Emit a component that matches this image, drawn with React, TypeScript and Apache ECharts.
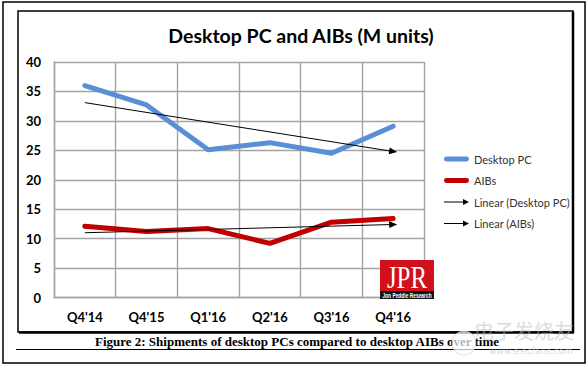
import React, { useEffect, useRef } from "react";
import * as echarts from "echarts";

const categories = ["Q4'14", "Q4'15", "Q1'16", "Q2'16", "Q3'16", "Q4'16"];
const desktopPC = [36.0, 32.7, 25.1, 26.3, 24.5, 29.1];
const aibs = [12.1, 11.2, 11.7, 9.2, 12.8, 13.4];
// trend line end points (first and last category)
const desktopTrend = [33.1, 24.8];
const aibTrend = [11.0, 12.4];
const yTicks = { min: 0, max: 40, interval: 5 };

const TITLE = "Desktop PC and AIBs (M units)";
const CAPTION = "Figure 2: Shipments of desktop PCs compared to desktop AIBs over time";

const BLUE = "#5A8ED6";
const RED = "#C00000";
const GRID = "#A3A3A3";

const barIcon = "path://M2.5,0 L23.5,0 A2.5,2.5 0 0 1 23.5,5 L2.5,5 A2.5,2.5 0 0 1 2.5,0 Z";
const arrowIcon = "path://M0,2.5 L19,2.5 L19,0 L25,3 L19,6 L19,3.5 L0,3.5 Z";

export default function App() {
  const ref = useRef<HTMLDivElement>(null);
  useEffect(() => {
    if (!ref.current) return;
    const chart = echarts.init(ref.current, null, { renderer: "svg" });
    const last = categories.length - 1;
    const option: any = {
      animation: false,
      backgroundColor: "#ffffff",
      title: {
        text: TITLE,
        left: 296,
        top: 20,
        textAlign: "center",
        textStyle: { fontFamily: "Lato", fontWeight: "bold", fontSize: 19.5, color: "#000" },
      },
      legend: {
        orient: "vertical",
        left: 439,
        top: 147,
        itemWidth: 25,
        itemHeight: 6,
        itemGap: 7.5,
        selectedMode: false,
        textStyle: { fontFamily: "Lato", fontSize: 11, color: "#333", lineHeight: 14 },
        data: [
          { name: "Desktop PC", icon: barIcon, itemStyle: { color: BLUE } },
          { name: "AIBs", icon: barIcon, itemStyle: { color: RED } },
          { name: "Linear (Desktop PC)", icon: arrowIcon, itemStyle: { color: "#000" } },
          { name: "Linear (AIBs)", icon: arrowIcon, itemStyle: { color: "#000" } },
        ],
      },
      grid: { left: 54, right: 164, top: 62, bottom: 67.5 },
      xAxis: {
        type: "category",
        data: categories,
        boundaryGap: true,
        axisLine: { show: true, lineStyle: { color: GRID, width: 1.4 } },
        axisTick: { show: false },
        splitLine: { show: true, interval: 0, lineStyle: { color: GRID, width: 1.4 } },
        axisLabel: {
          interval: 0,
          margin: 13,
          fontFamily: "Lato",
          fontWeight: "bold",
          fontSize: 13,
          color: "#000",
        },
      },
      yAxis: {
        type: "value",
        min: yTicks.min,
        max: yTicks.max,
        interval: yTicks.interval,
        axisLine: { show: true, lineStyle: { color: GRID, width: 1.4 } },
        axisTick: { show: false },
        splitLine: { show: true, lineStyle: { color: GRID, width: 1.4 } },
        axisLabel: {
          margin: 13,
          fontFamily: "Lato",
          fontWeight: "bold",
          fontSize: 13,
          color: "#000",
        },
      },
      series: [
        {
          name: "Desktop PC",
          type: "line",
          data: desktopPC,
          color: BLUE,
          symbol: "none",
          lineStyle: { color: BLUE, width: 5, cap: "round", join: "round" },
          z: 3,
        },
        {
          name: "AIBs",
          type: "line",
          data: aibs,
          color: RED,
          symbol: "none",
          lineStyle: { color: RED, width: 5, cap: "round", join: "round" },
          z: 3,
        },
        {
          name: "Linear (Desktop PC)",
          type: "line",
          data: [],
          color: "#000",
          symbol: "none",
          z: 4,
          markLine: {
            silent: true,
            animation: false,
            symbol: ["none", "triangle"],
            symbolSize: [7, 8],
            label: { show: false },
            lineStyle: { color: "#000", width: 1, type: "solid" },
            emphasis: { disabled: true },
            data: [
              [
                { coord: [categories[0], desktopTrend[0]] },
                { coord: [categories[last], desktopTrend[1]] },
              ],
            ],
          },
        },
        {
          name: "Linear (AIBs)",
          type: "line",
          data: [],
          color: "#000",
          symbol: "none",
          z: 4,
          markLine: {
            silent: true,
            animation: false,
            symbol: ["none", "triangle"],
            symbolSize: [7, 8],
            label: { show: false },
            lineStyle: { color: "#000", width: 1, type: "solid" },
            emphasis: { disabled: true },
            data: [
              [
                { coord: [categories[0], aibTrend[0]] },
                { coord: [categories[last], aibTrend[1]] },
              ],
            ],
          },
        },
      ],
      graphic: [
        // outer frame
        { type: "rect", shape: { x: 3, y: 2, width: 582, height: 361 }, style: { fill: "none", stroke: "#000", lineWidth: 1.5 }, z: 10 },
        // inner chart frame
        { type: "rect", shape: { x: 18, y: 11, width: 555, height: 321 }, style: { fill: "none", stroke: "#000", lineWidth: 1.5 }, z: 10 },
        { type: "line", shape: { x1: 573, y1: 12, x2: 573, y2: 333 }, style: { stroke: "#000", lineWidth: 2.5 }, z: 10 },
        { type: "line", shape: { x1: 19, y1: 332.5, x2: 574, y2: 332.5 }, style: { stroke: "#000", lineWidth: 2.5 }, z: 10 },
        // caption underline
        { type: "line", shape: { x1: 16, y1: 349.5, x2: 580, y2: 349.5 }, style: { stroke: "#000", lineWidth: 1.2 }, z: 10 },
        // caption
        {
          type: "text",
          x: 297,
          y: 341.5,
          style: {
            text: CAPTION,
            fill: "#000",
            font: "bold 13px 'Liberation Serif'",
            align: "center",
            verticalAlign: "middle",
          },
          z: 10,
        },
        // JPR logo
        {
          type: "group",
          x: 380,
          y: 260,
          z: 20,
          children: [
            { type: "rect", shape: { x: 0, y: 0, width: 54, height: 39 }, style: { fill: "#D2101C" }, z: 20 },
            { type: "rect", shape: { x: 0, y: 31, width: 54, height: 8 }, style: { fill: "#141414" }, z: 21 },
            {
              type: "text",
              x: 27,
              y: 17,
              scaleX: 0.78,
              style: {
                text: "JPR",
                fill: "#ffffff",
                font: "32px 'Liberation Serif'",
                align: "center",
                verticalAlign: "middle",
              },
              z: 22,
            },
            {
              type: "text",
              x: 27,
              y: 35.5,
              scaleX: 0.75,
              style: {
                text: "Jon Peddie Research",
                fill: "#ffffff",
                font: "bold 6.5px 'Liberation Sans'",
                align: "center",
                verticalAlign: "middle",
              },
              z: 22,
            },
          ],
        },
        // watermark
        {
          type: "text",
          x: 524,
          y: 330,
          style: {
            text: "电子发烧友",
            fill: "rgba(190,190,190,0.55)",
            font: "20px 'Noto Sans CJK SC'",
            align: "center",
            verticalAlign: "middle",
          },
          z: 30,
        },
        {
          type: "text",
          x: 531,
          y: 351,
          style: {
            text: "www.elecfans.com",
            fill: "rgba(190,190,190,0.6)",
            font: "9px 'DejaVu Sans'",
            align: "center",
            verticalAlign: "middle",
          },
          z: 30,
        },
        {
          type: "circle",
          shape: { cx: 464, cy: 343, r: 12 },
          style: { fill: "rgba(255,255,255,0.7)", stroke: "rgba(200,200,200,0.6)", lineWidth: 1 },
          z: 29,
        },
      ],
    };
    chart.setOption(option);
    return () => chart.dispose();
  }, []);
  return (
    <div
      ref={ref}
      style={{ position: "fixed", left: 0, top: 0, width: 588, height: 365, background: "#fff" }}
    />
  );
}
